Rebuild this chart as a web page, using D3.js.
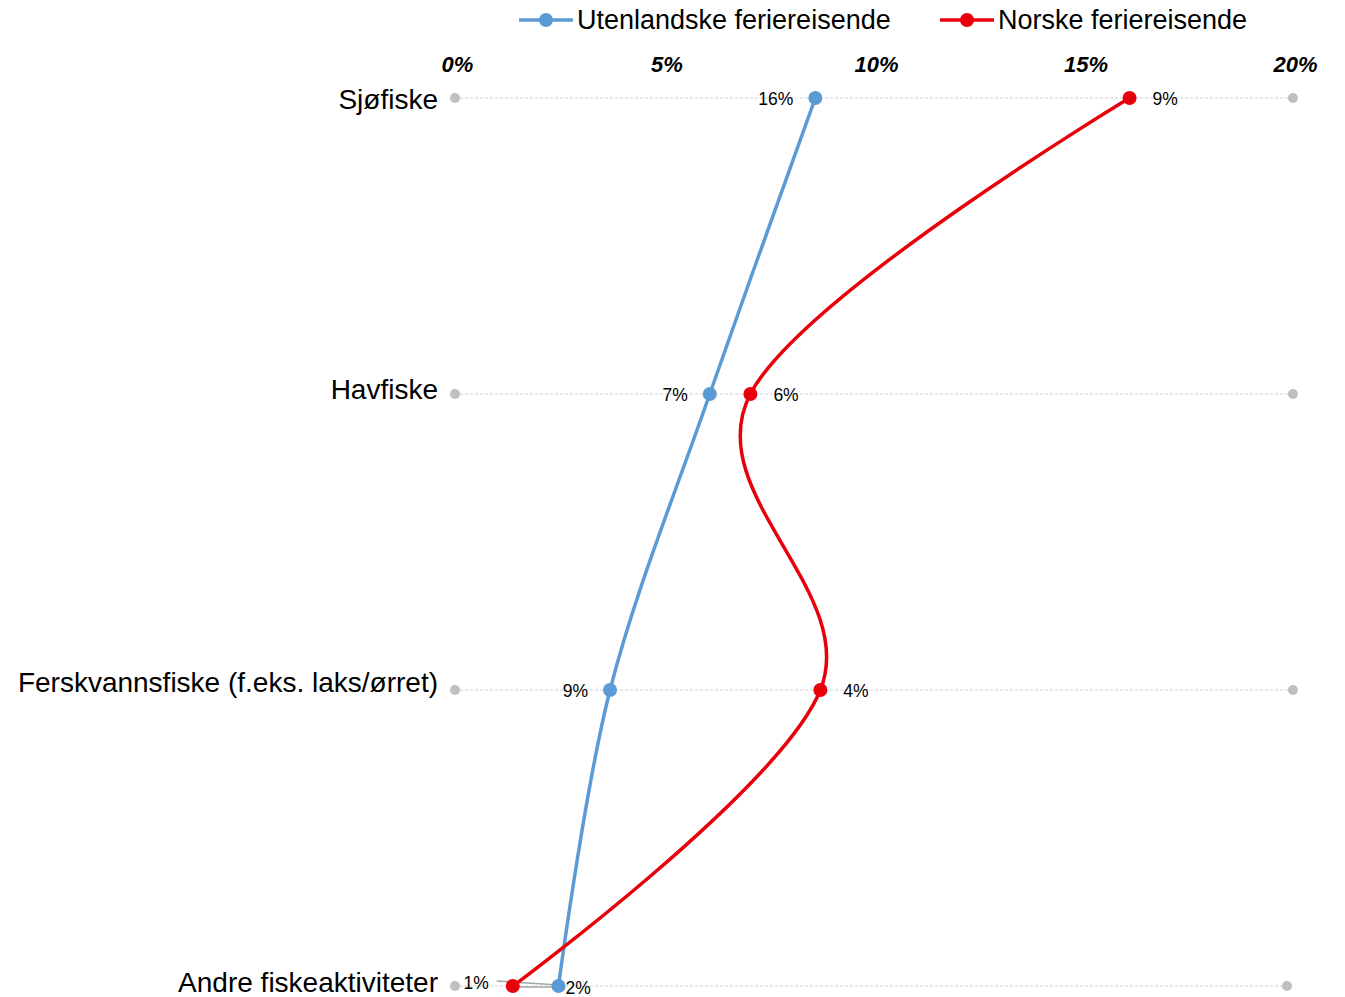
<!DOCTYPE html>
<html><head><meta charset="utf-8">
<script src="https://cdn.jsdelivr.net/npm/d3@7"></script>
<style>body{margin:0;background:#fff}</style>
</head><body>
<svg id="c" width="1345" height="997"></svg>
<script>
const categories = ["Sjøfiske","Havfiske","Ferskvannsfiske (f.eks. laks/ørret)","Andre fiskeaktiviteter"];
const seriesNames = ["Utenlandske feriereisende","Norske feriereisende"];
const utenlandske = [8.6, 6.08, 3.7, 2.47];
const norske = [16.1, 7.05, 8.72, 1.38];
const utenlandskeLabels = ["16%","7%","9%","2%"];
const norskeLabels = ["9%","6%","4%","1%"];
const ticks = [0,5,10,15,20];
const colors = ["#5b9bd5","#e8000b"];

const svg = d3.select("#c");
const x = d3.scaleLinear().domain([0,20]).range([455,1293]);
const y = d3.scalePoint().domain(categories).range([98,986]);
const sans = "'Liberation Sans',Arial,sans-serif";
const catDy = [11, 5, 2, 6];

// gridlines
categories.forEach((c,i)=>{
  const xr = i===3 ? x(20)-6 : x(20);
  svg.append("line").attr("x1",x(0)).attr("x2",xr).attr("y1",y(c)).attr("y2",y(c))
    .attr("stroke","#d0d0d0").attr("stroke-width",1).attr("stroke-dasharray","3,2");
  svg.append("circle").attr("cx",x(0)).attr("cy",y(c)).attr("r",5).attr("fill","#bfbfbf");
  svg.append("circle").attr("cx",xr).attr("cy",y(c)).attr("r",5).attr("fill","#bfbfbf");
});

// top axis
const axis = d3.axisTop(x).tickValues(ticks).tickFormat(d=>d+"%").tickSize(0);
const ag = svg.append("g").attr("transform","translate(2,75)").call(axis);
ag.select(".domain").remove();
ag.selectAll("text").attr("font-family",sans)
  .attr("font-size",22).attr("font-weight","bold").attr("font-style","italic").attr("fill","#000");

// category labels
svg.selectAll(".cat").data(categories).join("text")
  .attr("x",438).attr("y",(d,i)=>y(d)+catDy[i]).attr("text-anchor","end")
  .attr("font-family",sans).attr("font-size",28).attr("fill","#000")
  .text(d=>d);

// leader lines for bottom label
const last = categories[3];
svg.append("line").attr("x1",x(1.38)-16).attr("y1",y(last)-5).attr("x2",x(2.47)).attr("y2",y(last)-1)
  .attr("stroke","#a6a6a6").attr("stroke-width",1.5);
svg.append("line").attr("x1",x(1.38)).attr("y1",y(last)+1).attr("x2",x(2.47)).attr("y2",y(last)+1)
  .attr("stroke","#a6a6a6").attr("stroke-width",1.5);

const line = d3.line().x(d=>x(d.v)).y(d=>y(d.c)).curve(d3.curveCatmullRom.alpha(0));
[utenlandske, norske].forEach((vals,si)=>{
  const pts = vals.map((v,i)=>({v,c:categories[i]}));
  svg.append("path").datum(pts).attr("d",line).attr("fill","none")
    .attr("stroke",colors[si]).attr("stroke-width",3.5);
  svg.selectAll(".p"+si).data(pts).join("circle")
    .attr("cx",d=>x(d.v)).attr("cy",d=>y(d.c)).attr("r",7).attr("fill",colors[si]);
});

// data labels
utenlandske.forEach((v,i)=>{
  const last = i===3;
  svg.append("text").attr("x", last ? x(v)+7 : x(v)-22).attr("y",y(categories[i])+ (last?8:7))
    .attr("text-anchor", last ? "start":"end").attr("font-family",sans).attr("font-size",17.5)
    .attr("fill","#000").text(utenlandskeLabels[i]);
});
norske.forEach((v,i)=>{
  const last = i===3;
  svg.append("text").attr("x", last ? x(v)-24 : x(v)+23).attr("y",y(categories[i])+ (last?3:7))
    .attr("text-anchor", last ? "end":"start").attr("font-family",sans).attr("font-size",17.5)
    .attr("fill","#000").text(norskeLabels[i]);
});

// legend
const legX = [519, 940];
seriesNames.forEach((n,i)=>{
  const g = svg.append("g").attr("transform",`translate(${legX[i]},20)`);
  g.append("line").attr("x1",0).attr("x2",54).attr("stroke",colors[i]).attr("stroke-width",3.5);
  g.append("circle").attr("cx",27).attr("r",7).attr("fill",colors[i]);
  g.append("text").attr("x",58).attr("y",9).attr("font-family",sans).attr("font-size",27)
    .attr("fill","#000").text(n);
});
</script>
</body></html>
